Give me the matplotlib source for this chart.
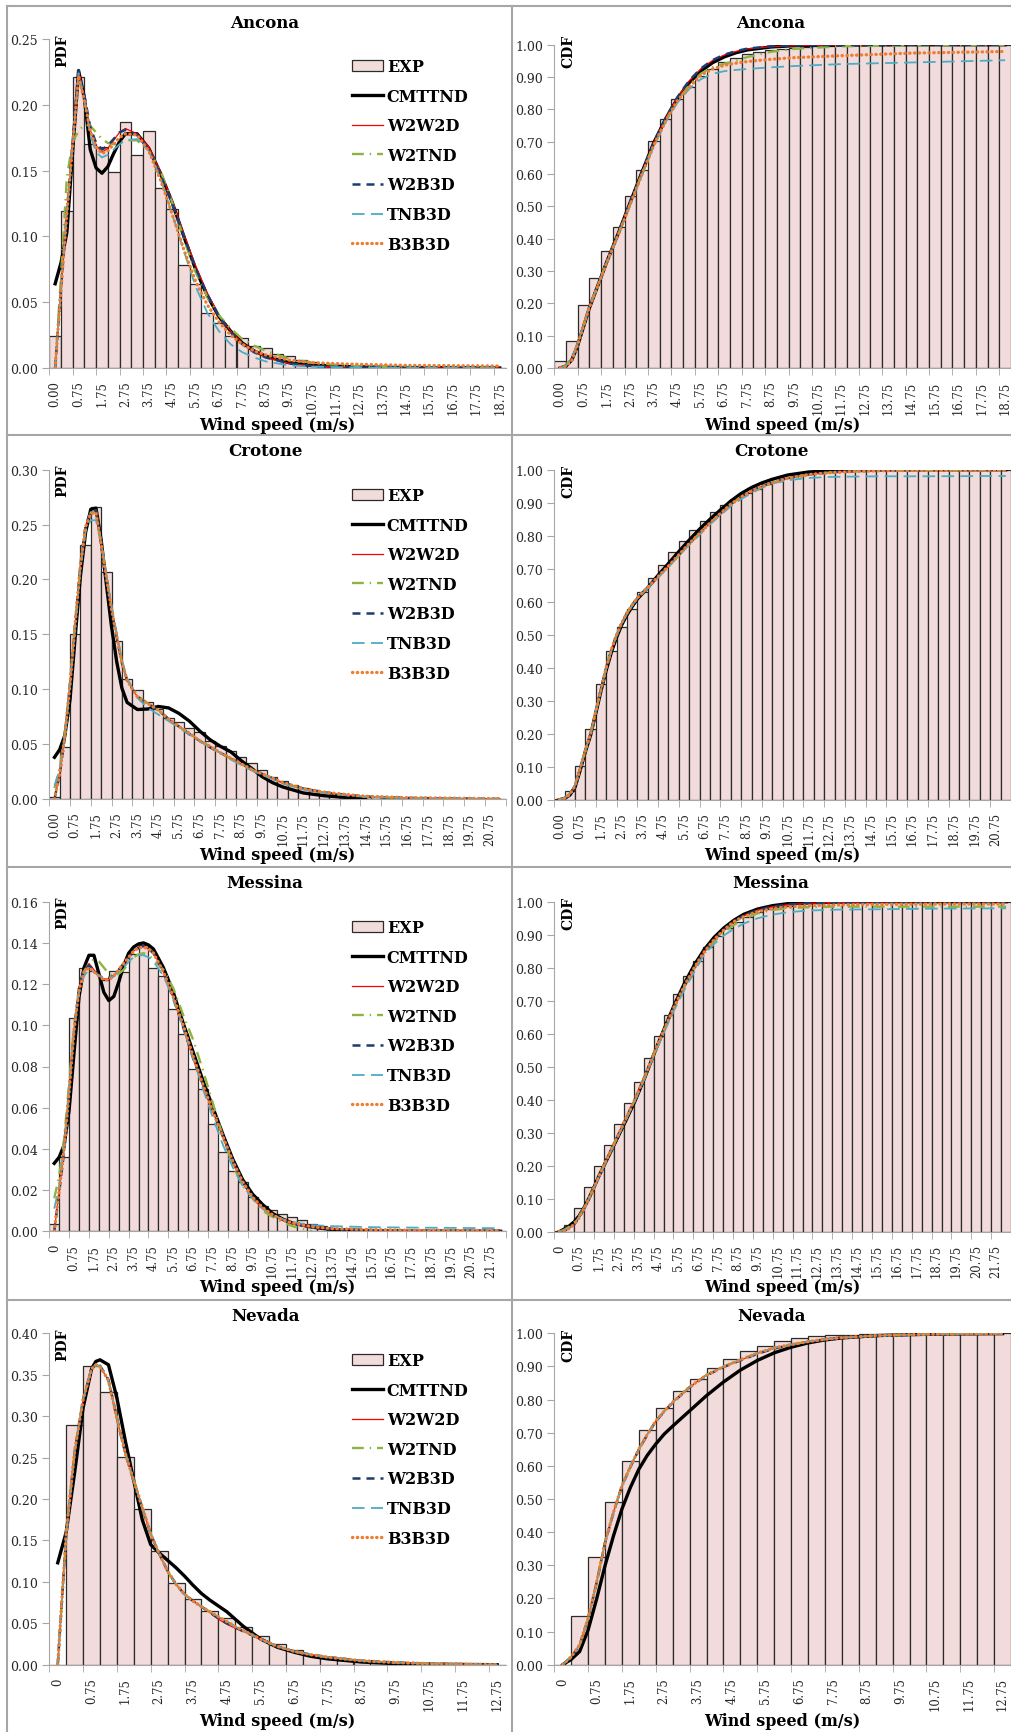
import numpy as np
import matplotlib.pyplot as plt
from matplotlib.lines import Line2D
from matplotlib.patches import Patch

plt.rcParams['font.family'] = 'DejaVu Serif'
nan = float('nan')

models = ["CMTTND", "W2W2D", "W2TND", "W2B3D", "TNB3D", "B3B3D"]
stations = ["Ancona", "Crotone", "Messina", "Nevada"]

# ---------------- Ancona ----------------
ancona_pdf_exp = [0.024, 0.119, 0.221, 0.170, 0.168, 0.149, 0.187, 0.162, 0.180, 0.137,
                  0.121, 0.078, 0.064, 0.042, 0.034, 0.024, 0.0225, 0.0165, 0.015, 0.0105,
                  0.0088, 0.006, 0.0043, 0.003, 0.0022, 0.0016, 0.0012, 0.0009, 0.0007, 0.0005,
                  0.0004, 0.0003, 0.0002, 0.0002, 0.0001, 0.0001, 0.0001, 0.0, 0.0]
ancona_cdf_exp = [0.023, 0.0845, 0.195, 0.278, 0.363, 0.437, 0.531, 0.612, 0.703, 0.770,
                  0.832, 0.870, 0.904, 0.925, 0.945, 0.960, 0.970, 0.978, 0.984, 0.988,
                  0.991, 0.994, 0.996, 0.997, 0.998, 0.998, 0.999, 0.999, 1.0, 1.0,
                  1.0, 1.0, 1.0, 1.0, 1.0, 1.0, 1.0, 1.0, 1.0]
# fitted curves, x in m/s
ancona_pdf_x = [0, 0.25, 0.5, 0.75, 1.0, 1.25, 1.5, 1.75, 2.0, 2.25, 2.5, 2.75, 3.0, 3.5, 4.0,
                4.5, 5.0, 5.5, 6.0, 6.5, 7.0, 7.5, 8.0, 8.5, 9.0, 10.0, 11.0, 12.5, 15.0, 19.0]
ancona_pdf_cmttnd = [0.064, 0.080, 0.103, 0.165, 0.226, 0.205, 0.166, 0.152, 0.148, 0.153, 0.163, 0.172, 0.178, 0.178, 0.167,
                     0.148, 0.126, 0.100, 0.075, 0.055, 0.039, 0.028, 0.019, 0.013, 0.009, 0.004, 0.002, 0.001, 0.0003, 0.0]
ancona_pdf_w2w2d = [0.0, 0.058, 0.118, 0.172, 0.226, 0.206, 0.181, 0.169, 0.164, 0.167, 0.173, 0.179, 0.182, 0.178, 0.168,
                    0.149, 0.127, 0.102, 0.078, 0.057, 0.040, 0.028, 0.019, 0.013, 0.008, 0.0035, 0.0015, 0.0005, 0.0001, 0.0]
ancona_pdf_w2tnd = [0.0, 0.070, 0.145, 0.172, 0.180, 0.185, 0.184, 0.179, 0.174, 0.171, 0.170, 0.171, 0.173, 0.173, 0.165,
                    0.150, 0.126, 0.098, 0.073, 0.054, 0.040, 0.030, 0.022, 0.017, 0.013, 0.007, 0.004, 0.0015, 0.0003, 0.0]
ancona_pdf_w2b3d = [0.0, 0.060, 0.118, 0.172, 0.226, 0.207, 0.183, 0.171, 0.166, 0.169, 0.174, 0.179, 0.181, 0.177, 0.166,
                    0.147, 0.125, 0.100, 0.076, 0.056, 0.039, 0.027, 0.018, 0.012, 0.008, 0.0035, 0.0015, 0.0005, 0.0001, 0.0]
ancona_pdf_tnb3d = [0.0, 0.062, 0.118, 0.170, 0.224, 0.203, 0.177, 0.164, 0.160, 0.162, 0.166, 0.170, 0.173, 0.174, 0.165,
                    0.144, 0.117, 0.089, 0.062, 0.042, 0.028, 0.018, 0.012, 0.008, 0.005, 0.002, 0.001, 0.0005, 0.0002, 0.0]
ancona_pdf_b3b3d = [0.0, 0.060, 0.118, 0.170, 0.222, 0.203, 0.180, 0.168, 0.163, 0.165, 0.170, 0.175, 0.178, 0.177, 0.165,
                    0.143, 0.117, 0.090, 0.066, 0.048, 0.035, 0.025, 0.018, 0.013, 0.010, 0.006, 0.004, 0.003, 0.002, 0.0015]
ancona_cdf_x = [0, 0.25, 0.5, 0.75, 1.0, 1.25, 1.5, 2.0, 2.5, 3.0, 3.5, 4.0, 4.5, 5.0, 5.5, 6.0, 6.5,
                7.0, 7.5, 8.0, 9.0, 10.0, 12.0, 15.0, 19.0]
ancona_cdf_cmttnd = [0, 0.006, 0.025, 0.070, 0.128, 0.186, 0.234, 0.330, 0.420, 0.514, 0.607, 0.697, 0.770, 0.832, 0.882,
                     0.918, 0.944, 0.962, 0.975, 0.984, 0.993, 0.997, 0.999, 1.0, 1.0]
ancona_cdf_w2w2d = [0, 0.007, 0.028, 0.075, 0.131, 0.190, 0.236, 0.330, 0.418, 0.512, 0.606, 0.697, 0.772, 0.836, 0.887,
                    0.925, 0.951, 0.968, 0.979, 0.987, 0.994, 0.997, 0.999, 1.0, 1.0]
ancona_cdf_w2tnd = [0, 0.009, 0.032, 0.078, 0.132, 0.190, 0.236, 0.330, 0.418, 0.510, 0.603, 0.692, 0.765, 0.826, 0.874,
                    0.910, 0.930, 0.941, 0.950, 0.962, 0.978, 0.987, 0.995, 0.998, 0.999]
ancona_cdf_w2b3d = [0, 0.007, 0.027, 0.074, 0.130, 0.189, 0.236, 0.331, 0.419, 0.513, 0.607, 0.698, 0.773, 0.837, 0.888,
                    0.926, 0.952, 0.969, 0.980, 0.988, 0.995, 0.998, 0.999, 1.0, 1.0]
ancona_cdf_tnb3d = [0, 0.008, 0.030, 0.077, 0.133, 0.190, 0.235, 0.328, 0.415, 0.507, 0.598, 0.686, 0.760, 0.820, 0.862,
                    0.893, 0.910, 0.918, 0.922, 0.925, 0.930, 0.934, 0.940, 0.945, 0.952]
ancona_cdf_b3b3d = [0, 0.005, 0.024, 0.072, 0.130, 0.188, 0.234, 0.328, 0.416, 0.508, 0.600, 0.689, 0.763, 0.826, 0.868,
                    0.905, 0.925, 0.936, 0.943, 0.948, 0.955, 0.960, 0.966, 0.974, 0.979]

# ---------------- Crotone ----------------
crotone_pdf_exp = [0.0015, 0.047, 0.150, 0.231, 0.266, 0.207, 0.144, 0.109, 0.0996, 0.088,
                   0.082, 0.074, 0.070, 0.065, 0.061, 0.053, 0.048, 0.044, 0.038, 0.033,
                   0.026, 0.020, 0.016, 0.013, 0.010, 0.008, 0.006, 0.0045, 0.0035, 0.0025,
                   0.002, 0.0015, 0.001, 0.0008, 0.0006, 0.0004, 0.0003, 0.0002, 0.0002, 0.0001,
                   0.0001, 0.0001, 0.0, 0.0]
crotone_cdf_exp = [0.001, 0.025, 0.101, 0.215, 0.350, 0.452, 0.524, 0.578, 0.628, 0.672,
                   0.712, 0.750, 0.785, 0.816, 0.845, 0.871, 0.894, 0.912, 0.929, 0.943,
                   0.957, 0.967, 0.975, 0.982, 0.987, 0.991, 0.994, 0.996, 0.997, 0.998,
                   0.999, 0.999, 0.9995, 1.0, 1.0, 1.0, 1.0, 1.0, 1.0, 1.0,
                   1.0, 1.0, 1.0, 1.0]
crotone_pdf_x = [0, 0.25, 0.5, 0.75, 1.0, 1.25, 1.5, 1.75, 2.0, 2.25, 2.5, 2.75, 3.0, 3.25, 3.5,
                 4.0, 4.5, 5.0, 5.5, 6.0, 6.5, 7.0, 7.5, 8.0, 8.5, 9.0, 9.5, 10.0, 10.5, 11.0,
                 12.0, 13.0, 14.0, 15.0, 17.0, 21.5]
crotone_pdf_cmttnd = [0.038, 0.045, 0.058, 0.091, 0.148, 0.203, 0.243, 0.264, 0.265, 0.236, 0.196, 0.157, 0.125, 0.101, 0.088,
                      0.0815, 0.082, 0.0843, 0.083, 0.078, 0.071, 0.062, 0.054, 0.048, 0.043, 0.035, 0.028, 0.0205, 0.015, 0.011,
                      0.0055, 0.003, 0.0015, 0.0005, nan, nan]
crotone_pdf_w2w2d = [0.0, 0.023, 0.057, 0.105, 0.160, 0.213, 0.248, 0.260, 0.263, 0.232, 0.202, 0.173, 0.148, 0.124, 0.108,
                     0.093, 0.087, 0.081, 0.073, 0.066, 0.060, 0.053, 0.048, 0.042, 0.037, 0.032, 0.027, 0.023, 0.019, 0.0145,
                     0.009, 0.0058, 0.0038, 0.002, 0.0009, 0.0]
crotone_pdf_w2tnd = [0.010, 0.028, 0.060, 0.106, 0.160, 0.212, 0.247, 0.261, 0.262, 0.233, 0.203, 0.174, 0.149, 0.125, 0.109,
                     0.094, 0.087, 0.081, 0.073, 0.066, 0.060, 0.053, 0.048, 0.042, 0.037, 0.032, 0.027, 0.023, 0.019, 0.0145,
                     0.009, 0.0058, 0.0038, 0.002, 0.0009, 0.0]
crotone_pdf_w2b3d = [0.0, 0.022, 0.056, 0.104, 0.160, 0.213, 0.249, 0.262, 0.263, 0.233, 0.202, 0.172, 0.147, 0.124, 0.108,
                     0.093, 0.087, 0.081, 0.073, 0.066, 0.059, 0.053, 0.047, 0.042, 0.037, 0.032, 0.027, 0.023, 0.019, 0.015,
                     0.0095, 0.006, 0.004, 0.0022, 0.001, 0.0]
crotone_pdf_tnb3d = [0.012, 0.027, 0.058, 0.106, 0.160, 0.211, 0.244, 0.254, 0.254, 0.234, 0.205, 0.176, 0.151, 0.127, 0.110,
                     0.092, 0.083, 0.077, 0.071, 0.065, 0.059, 0.053, 0.047, 0.042, 0.036, 0.031, 0.026, 0.022, 0.018, 0.014,
                     0.0085, 0.0055, 0.0035, 0.002, 0.0008, 0.0]
crotone_pdf_b3b3d = [0.0, 0.023, 0.057, 0.105, 0.160, 0.213, 0.248, 0.260, 0.261, 0.232, 0.202, 0.173, 0.148, 0.124, 0.108,
                     0.093, 0.087, 0.081, 0.073, 0.066, 0.060, 0.053, 0.048, 0.042, 0.037, 0.032, 0.027, 0.023, 0.019, 0.015,
                     0.0095, 0.0062, 0.0042, 0.0025, 0.0012, 0.0003]
crotone_cdf_x = [0, 0.25, 0.5, 0.75, 1.0, 1.25, 1.5, 1.75, 2.0, 2.25, 2.5, 2.75, 3.0, 3.25, 3.5, 3.75,
                 4.25, 4.75, 5.25, 5.75, 6.25, 6.75, 7.25, 7.75, 8.25, 8.75, 9.25, 9.75, 10.25,
                 11.0, 12.0, 13.0, 14.0, 15.5, 17.5, 21.5]
crotone_cdf_cmttnd = [0, 0.004, 0.014, 0.038, 0.090, 0.146, 0.196, 0.262, 0.330, 0.392, 0.447, 0.492, 0.530, 0.560, 0.585, 0.608,
                      0.642, 0.680, 0.716, 0.752, 0.787, 0.820, 0.850, 0.878, 0.905, 0.928, 0.946, 0.960, 0.971,
                      0.984, 0.993, 0.997, 0.999, 1.0, 1.0, 1.0]
crotone_cdf_w2w2d = [0, 0.004, 0.016, 0.042, 0.095, 0.150, 0.200, 0.268, 0.335, 0.400, 0.455, 0.500, 0.536, 0.566, 0.590, 0.612,
                     0.643, 0.676, 0.708, 0.742, 0.776, 0.807, 0.838, 0.867, 0.896, 0.918, 0.936, 0.950, 0.961,
                     0.975, 0.986, 0.992, 0.995, 0.998, 0.999, 1.0]
crotone_cdf_w2tnd = [0, 0.006, 0.018, 0.044, 0.096, 0.150, 0.200, 0.267, 0.334, 0.399, 0.454, 0.499, 0.535, 0.565, 0.589, 0.611,
                     0.642, 0.675, 0.707, 0.741, 0.775, 0.806, 0.837, 0.866, 0.895, 0.917, 0.935, 0.949, 0.960,
                     0.974, 0.985, 0.991, 0.994, 0.997, 0.998, 0.999]
crotone_cdf_w2b3d = [0, 0.004, 0.016, 0.042, 0.095, 0.150, 0.200, 0.268, 0.335, 0.400, 0.455, 0.500, 0.536, 0.566, 0.590, 0.612,
                     0.643, 0.676, 0.708, 0.742, 0.776, 0.807, 0.838, 0.867, 0.896, 0.918, 0.936, 0.950, 0.961,
                     0.975, 0.986, 0.992, 0.995, 0.998, 0.999, 1.0]
crotone_cdf_tnb3d = [0, 0.005, 0.018, 0.045, 0.097, 0.151, 0.200, 0.267, 0.333, 0.397, 0.452, 0.498, 0.534, 0.564, 0.588, 0.610,
                     0.640, 0.673, 0.705, 0.739, 0.772, 0.803, 0.834, 0.862, 0.889, 0.911, 0.929, 0.945, 0.958,
                     0.968, 0.975, 0.978, 0.979, 0.980, 0.980, 0.981]
crotone_cdf_b3b3d = [0, 0.004, 0.016, 0.042, 0.095, 0.150, 0.200, 0.268, 0.335, 0.400, 0.455, 0.500, 0.536, 0.566, 0.590, 0.612,
                     0.643, 0.676, 0.708, 0.742, 0.776, 0.807, 0.838, 0.867, 0.895, 0.917, 0.935, 0.949, 0.960,
                     0.974, 0.985, 0.991, 0.994, 0.997, 0.998, 0.999]

# ---------------- Messina ----------------
messina_pdf_exp = [0.0036, 0.036, 0.1035, 0.128, 0.1265, 0.122, 0.1265, 0.126, 0.1346, 0.139,
                   0.128, 0.1238, 0.108, 0.0958, 0.079, 0.069, 0.052, 0.0387, 0.0294, 0.0238,
                   0.0165, 0.0121, 0.0102, 0.0083, 0.0068, 0.0057, 0.0036, 0.0024, 0.0016, 0.0011,
                   0.0008, 0.0006, 0.0004, 0.0003, 0.0002, 0.0002, 0.0001, 0.0001, 0.0001, 0.0,
                   0.0, 0.0, 0.0, 0.0, 0.0, 0.0]
messina_cdf_exp = [0.002, 0.020, 0.072, 0.136, 0.199, 0.263, 0.326, 0.389, 0.4545, 0.526,
                   0.594, 0.658, 0.720, 0.774, 0.821, 0.862, 0.895, 0.920, 0.940, 0.955,
                   0.968, 0.977, 0.983, 0.988, 0.992, 0.995, 0.997, 0.998, 0.999, 0.999,
                   1.0, 1.0, 1.0, 1.0, 1.0, 1.0, 1.0, 1.0, 1.0, 1.0,
                   1.0, 1.0, 1.0, 1.0, 1.0, 1.0]
messina_pdf_x = [0, 0.25, 0.5, 0.75, 1.0, 1.25, 1.5, 1.75, 2.0, 2.25, 2.5, 2.75, 3.0, 3.25, 3.5, 3.75,
                 4.0, 4.25, 4.5, 4.75, 5.0, 5.5, 6.0, 6.5, 7.0, 7.5, 8.0, 8.5, 9.0, 9.5, 10.0,
                 10.5, 11.0, 11.5, 12.0, 13.0, 14.0, 16.0, 18.0, 22.5]
messina_pdf_cmttnd = [0.033, 0.036, 0.042, 0.059, 0.087, 0.114, 0.128, 0.134, 0.134, 0.125, 0.116, 0.112, 0.114, 0.121, 0.129,
                      0.135, 0.138, 0.1395, 0.140, 0.139, 0.137, 0.128, 0.116, 0.101, 0.087, 0.073, 0.060, 0.047, 0.035, 0.025,
                      0.018, 0.013, 0.0087, 0.006, 0.004, 0.002, 0.0009, 0.0002, 0.0, 0.0]
messina_pdf_w2w2d = [0.0, 0.020, 0.040, 0.068, 0.098, 0.118, 0.127, 0.130, 0.127, 0.124, 0.1225, 0.1225, 0.124, 0.127, 0.130,
                     0.133, 0.136, 0.138, 0.1387, 0.137, 0.1355, 0.126, 0.113, 0.099, 0.0836, 0.0705, 0.058, 0.046, 0.033, 0.0235,
                     0.016, 0.011, 0.0078, 0.0054, 0.0038, 0.002, 0.0011, 0.0006, 0.0004, 0.0003]
messina_pdf_w2tnd = [0.016, 0.027, 0.045, 0.072, 0.100, 0.118, 0.126, 0.130, 0.132, 0.131, 0.128, 0.125, 0.124, 0.125, 0.127,
                     0.130, 0.133, 0.1345, 0.135, 0.134, 0.132, 0.127, 0.118, 0.105, 0.093, 0.078, 0.062, 0.046, 0.032, 0.022,
                     0.016, 0.010, 0.007, 0.0045, 0.0025, 0.0, nan, nan, nan, nan]
messina_pdf_w2b3d = [0.0, 0.019, 0.039, 0.067, 0.097, 0.118, 0.127, 0.129, 0.127, 0.124, 0.123, 0.123, 0.124, 0.127, 0.130,
                     0.133, 0.136, 0.1375, 0.1385, 0.137, 0.135, 0.126, 0.113, 0.099, 0.084, 0.071, 0.058, 0.046, 0.034, 0.024,
                     0.0165, 0.0115, 0.008, 0.0055, 0.0038, 0.002, 0.0011, 0.0006, 0.0004, 0.0003]
messina_pdf_tnb3d = [0.011, 0.022, 0.042, 0.070, 0.098, 0.116, 0.124, 0.127, 0.126, 0.124, 0.123, 0.123, 0.124, 0.126, 0.128,
                     0.131, 0.133, 0.134, 0.134, 0.133, 0.131, 0.124, 0.113, 0.099, 0.084, 0.069, 0.055, 0.042, 0.031, 0.022,
                     0.016, 0.011, 0.008, 0.006, 0.0045, 0.003, 0.0025, 0.002, 0.0018, 0.0015]
messina_pdf_b3b3d = [0.0, 0.020, 0.040, 0.068, 0.098, 0.117, 0.126, 0.128, 0.126, 0.124, 0.122, 0.122, 0.124, 0.127, 0.130,
                     0.133, 0.136, 0.1375, 0.138, 0.137, 0.135, 0.126, 0.114, 0.100, 0.085, 0.071, 0.058, 0.046, 0.034, 0.024,
                     0.0165, 0.0115, 0.008, 0.0056, 0.004, 0.0022, 0.0013, 0.0008, 0.0005, 0.0004]
messina_cdf_x = [0, 0.25, 0.5, 0.75, 1.0, 1.25, 1.5, 1.75, 2.0, 2.3, 2.8, 3.3, 3.8, 4.3, 4.8, 5.3,
                 5.8, 6.3, 6.8, 7.3, 7.8, 8.3, 8.8, 9.3, 10.0, 10.75, 11.5, 12.5, 14.0, 16.0, 19.0, 22.5]
messina_cdf_cmttnd = [0, 0.008, 0.017, 0.030, 0.048, 0.073, 0.102, 0.135, 0.169, 0.206, 0.268, 0.330, 0.394, 0.466, 0.543, 0.617,
                      0.688, 0.752, 0.808, 0.855, 0.892, 0.921, 0.944, 0.962, 0.978, 0.988, 0.994, 0.997, 0.999, 1.0, 1.0, 1.0]
messina_cdf_w2w2d = [0, 0.003, 0.010, 0.022, 0.042, 0.070, 0.100, 0.133, 0.168, 0.208, 0.272, 0.336, 0.400, 0.470, 0.545, 0.615,
                     0.683, 0.745, 0.800, 0.848, 0.885, 0.915, 0.940, 0.958, 0.975, 0.985, 0.991, 0.995, 0.998, 0.999, 1.0, 1.0]
messina_cdf_w2tnd = [0, 0.006, 0.015, 0.028, 0.047, 0.073, 0.102, 0.134, 0.168, 0.207, 0.271, 0.335, 0.399, 0.468, 0.543, 0.613,
                     0.680, 0.742, 0.796, 0.843, 0.880, 0.908, 0.930, 0.948, 0.965, 0.975, 0.980, 0.983, 0.985, 0.985, 0.985, 0.985]
messina_cdf_w2b3d = [0, 0.003, 0.010, 0.022, 0.042, 0.070, 0.100, 0.133, 0.168, 0.208, 0.272, 0.336, 0.400, 0.470, 0.545, 0.615,
                     0.683, 0.745, 0.800, 0.848, 0.885, 0.915, 0.940, 0.958, 0.975, 0.985, 0.991, 0.995, 0.998, 0.999, 1.0, 1.0]
messina_cdf_tnb3d = [0, 0.005, 0.013, 0.026, 0.045, 0.072, 0.101, 0.133, 0.166, 0.205, 0.268, 0.331, 0.395, 0.464, 0.538, 0.607,
                     0.673, 0.733, 0.787, 0.840, 0.872, 0.898, 0.918, 0.934, 0.950, 0.961, 0.968, 0.973, 0.976, 0.977, 0.979, 0.980]
messina_cdf_b3b3d = [0, 0.003, 0.010, 0.022, 0.042, 0.070, 0.100, 0.133, 0.168, 0.208, 0.272, 0.336, 0.400, 0.470, 0.545, 0.615,
                     0.683, 0.745, 0.800, 0.848, 0.885, 0.915, 0.940, 0.955, 0.970, 0.979, 0.984, 0.988, 0.990, 0.992, 0.993, 0.993]

# ---------------- Nevada ----------------
nevada_pdf_exp = [0.0, 0.289, 0.360, 0.329, 0.251, 0.1875, 0.137, 0.0986, 0.079, 0.065,
                  0.056, 0.045, 0.035, 0.025, 0.018, 0.012, 0.009, 0.006, 0.004, 0.003,
                  0.002, 0.0015, 0.001, 0.0008, 0.0005, 0.0003, 0.0002]
nevada_cdf_exp = [0.0, 0.146, 0.326, 0.491, 0.615, 0.707, 0.776, 0.825, 0.863, 0.894,
                  0.9225, 0.946, 0.963, 0.976, 0.985, 0.991, 0.994, 0.996, 0.997, 0.998,
                  0.999, 0.999, 1.0, 1.0, 1.0, 1.0, 1.0]
nevada_pdf_x = [0, 0.25, 0.5, 0.75, 1.0, 1.125, 1.25, 1.5, 1.75, 2.0, 2.25, 2.5, 2.75, 3.0, 3.25, 3.5, 3.75,
                4.0, 4.25, 4.5, 4.75, 5.0, 5.25, 5.5, 6.0, 6.5, 7.0, 7.5, 8.0, 9.0, 10.0, 11.0, 13.0]
nevada_pdf_cmttnd = [0.123, 0.160, 0.232, 0.310, 0.357, 0.366, 0.368, 0.362, 0.322, 0.270, 0.222, 0.175, 0.145, 0.135, 0.126,
                     0.117, 0.107, 0.096, 0.086, 0.078, 0.071, 0.064, 0.055, 0.046, 0.031, 0.021, 0.015, 0.010, 0.007, 0.0032,
                     0.0013, 0.0005, 0.0]
nevada_pdf_w2w2d = [0.0, 0.158, 0.258, 0.320, 0.357, 0.362, 0.360, 0.343, 0.297, 0.255, 0.222, 0.190, 0.158, 0.134, 0.113,
                    0.097, 0.085, 0.077, 0.070, 0.063, 0.055, 0.049, 0.044, 0.040, 0.031, 0.022, 0.016, 0.012, 0.009, 0.0048,
                    0.0026, 0.0013, 0.0]
nevada_pdf_w2tnd = [0.0, 0.158, 0.258, 0.320, 0.357, 0.362, 0.360, 0.343, 0.297, 0.255, 0.222, 0.190, 0.158, 0.134, 0.113,
                    0.097, 0.085, 0.077, 0.070, 0.064, 0.058, 0.052, 0.046, 0.041, 0.031, 0.022, 0.016, 0.012, 0.009, 0.0048,
                    0.0026, 0.0013, 0.0]
nevada_pdf_w2b3d = [0.0, 0.156, 0.257, 0.320, 0.357, 0.362, 0.361, 0.344, 0.298, 0.255, 0.221, 0.189, 0.158, 0.134, 0.113,
                    0.097, 0.085, 0.077, 0.070, 0.063, 0.056, 0.050, 0.045, 0.040, 0.031, 0.022, 0.016, 0.012, 0.009, 0.0048,
                    0.0026, 0.0013, 0.0]
nevada_pdf_tnb3d = [0.0, 0.158, 0.258, 0.320, 0.357, 0.362, 0.360, 0.343, 0.297, 0.255, 0.222, 0.190, 0.158, 0.134, 0.113,
                    0.097, 0.085, 0.077, 0.070, 0.064, 0.058, 0.052, 0.046, 0.041, 0.031, 0.022, 0.016, 0.012, 0.009, 0.0048,
                    0.0026, 0.0013, 0.0]
nevada_pdf_b3b3d = [0.0, 0.158, 0.258, 0.320, 0.357, 0.362, 0.360, 0.343, 0.297, 0.255, 0.222, 0.190, 0.158, 0.134, 0.113,
                    0.097, 0.085, 0.077, 0.070, 0.064, 0.058, 0.052, 0.046, 0.041, 0.031, 0.022, 0.016, 0.012, 0.009, 0.0048,
                    0.0026, 0.0013, 0.0]
nevada_cdf_x = [0, 0.25, 0.5, 0.75, 1.0, 1.25, 1.5, 1.75, 2.0, 2.25, 2.5, 2.75, 3.0, 3.25, 3.75, 4.25, 4.75,
                5.25, 5.75, 6.25, 6.75, 7.25, 7.75, 8.25, 9.25, 10.25, 11.25, 13.0]
nevada_cdf_cmttnd = [0, 0.016, 0.040, 0.105, 0.198, 0.299, 0.389, 0.470, 0.535, 0.590, 0.632, 0.666, 0.696, 0.720, 0.766,
                     0.812, 0.853, 0.889, 0.918, 0.941, 0.958, 0.971, 0.980, 0.986, 0.993, 0.996, 0.998, 0.999]
nevada_cdf_w2w2d = [0, 0.024, 0.060, 0.140, 0.248, 0.369, 0.460, 0.540, 0.598, 0.650, 0.695, 0.735, 0.765, 0.792, 0.838,
                    0.874, 0.899, 0.919, 0.939, 0.955, 0.965, 0.974, 0.981, 0.986, 0.992, 0.995, 0.997, 0.999]
nevada_cdf_w2tnd = [0, 0.024, 0.060, 0.140, 0.248, 0.369, 0.460, 0.540, 0.598, 0.650, 0.695, 0.735, 0.765, 0.792, 0.838,
                    0.874, 0.899, 0.920, 0.940, 0.956, 0.966, 0.975, 0.982, 0.987, 0.993, 0.996, 0.998, 0.999]
nevada_cdf_w2b3d = [0, 0.023, 0.059, 0.139, 0.247, 0.368, 0.459, 0.539, 0.597, 0.649, 0.694, 0.734, 0.764, 0.791, 0.837,
                    0.873, 0.898, 0.918, 0.938, 0.954, 0.965, 0.974, 0.981, 0.986, 0.992, 0.995, 0.997, 0.999]
nevada_cdf_tnb3d = [0, 0.024, 0.060, 0.140, 0.248, 0.369, 0.460, 0.540, 0.598, 0.650, 0.695, 0.735, 0.765, 0.792, 0.838,
                    0.874, 0.899, 0.920, 0.940, 0.956, 0.966, 0.975, 0.982, 0.987, 0.993, 0.996, 0.998, 0.999]
nevada_cdf_b3b3d = [0, 0.024, 0.060, 0.140, 0.248, 0.369, 0.460, 0.540, 0.598, 0.650, 0.695, 0.735, 0.765, 0.792, 0.838,
                    0.874, 0.899, 0.920, 0.940, 0.956, 0.966, 0.975, 0.982, 0.987, 0.993, 0.996, 0.998, 0.999]

first_label = ["0.00", "0.00", "0", "0"]
pdf_ymax = [0.25, 0.30, 0.16, 0.40]
pdf_ystep = [0.05, 0.05, 0.02, 0.05]

pdf_exp = [ancona_pdf_exp, crotone_pdf_exp, messina_pdf_exp, nevada_pdf_exp]
cdf_exp = [ancona_cdf_exp, crotone_cdf_exp, messina_cdf_exp, nevada_cdf_exp]
pdf_x = [ancona_pdf_x, crotone_pdf_x, messina_pdf_x, nevada_pdf_x]
cdf_x = [ancona_cdf_x, crotone_cdf_x, messina_cdf_x, nevada_cdf_x]
pdf_fits = [
    [ancona_pdf_cmttnd, ancona_pdf_w2w2d, ancona_pdf_w2tnd, ancona_pdf_w2b3d, ancona_pdf_tnb3d, ancona_pdf_b3b3d],
    [crotone_pdf_cmttnd, crotone_pdf_w2w2d, crotone_pdf_w2tnd, crotone_pdf_w2b3d, crotone_pdf_tnb3d, crotone_pdf_b3b3d],
    [messina_pdf_cmttnd, messina_pdf_w2w2d, messina_pdf_w2tnd, messina_pdf_w2b3d, messina_pdf_tnb3d, messina_pdf_b3b3d],
    [nevada_pdf_cmttnd, nevada_pdf_w2w2d, nevada_pdf_w2tnd, nevada_pdf_w2b3d, nevada_pdf_tnb3d, nevada_pdf_b3b3d],
]
cdf_fits = [
    [ancona_cdf_cmttnd, ancona_cdf_w2w2d, ancona_cdf_w2tnd, ancona_cdf_w2b3d, ancona_cdf_tnb3d, ancona_cdf_b3b3d],
    [crotone_cdf_cmttnd, crotone_cdf_w2w2d, crotone_cdf_w2tnd, crotone_cdf_w2b3d, crotone_cdf_tnb3d, crotone_cdf_b3b3d],
    [messina_cdf_cmttnd, messina_cdf_w2w2d, messina_cdf_w2tnd, messina_cdf_w2b3d, messina_cdf_tnb3d, messina_cdf_b3b3d],
    [nevada_cdf_cmttnd, nevada_cdf_w2w2d, nevada_cdf_w2tnd, nevada_cdf_w2b3d, nevada_cdf_tnb3d, nevada_cdf_b3b3d],
]

# styles
BAR = '#F2DCDB'
EDGE = '#2B2B2B'
AXIS = '#A6A6A6'
TXT = '#262626'
styles = {
    "CMTTND": dict(color='black', lw=2.4, ls='-'),
    "W2W2D": dict(color='#FF0000', lw=0.9, ls='-'),
    "W2TND": dict(color='#8DB441', lw=1.7, ls=(0, (5, 2.5, 0.6, 2.5))),
    "W2B3D": dict(color='#1F3B70', lw=1.8, ls=(0, (3.2, 2.4))),
    "TNB3D": dict(color='#4BACC6', lw=1.3, ls=(0, (7, 3.5))),
    "B3B3D": dict(color='#ED7D31', lw=2.4, ls=(0, (0.1, 1.35)), dash_capstyle='round'),
}

# ---------------- layout (pixels) ----------------
W, H = 1011, 1733
fig = plt.figure(figsize=(W / 100, H / 100), dpi=100)


def fx(x):
    return x / W


def fy(y):
    return 1 - y / H


row_top = [7, 436, 868, 1301]
pdf_box = [(40, 369), (470.7, 800), (902.7, 1232.3), (1334.3, 1665.7)]
cdf_box = [(45.7, 369), (470.7, 800.7), (902.7, 1232.7), (1334.3, 1665.7)]
col_x = [(49.3, 505.6), (554.3, 1011)]
xlab_y = [426, 856, 1288, 1722]
ylab_y = [51, 481, 913, 1345]
title_x = [265, 771]
ylab_x = [62, 568]


def cat_labels(n, zero):
    return [zero] + ['%.2f' % (0.25 + 0.5 * k) for k in range(n - 1)]


def draw(col, r, exp, xs, fits, ymax, ystep, name, ylab):
    x0, x1 = col_x[col]
    y0, y1 = (pdf_box if col == 0 else cdf_box)[r]
    ax = fig.add_axes([fx(x0), fy(y1), (x1 - x0) / W, (y1 - y0) / H])
    n = len(exp)
    pos = np.arange(n)
    ax.bar(pos, exp, width=1.0, color=BAR, edgecolor=EDGE, linewidth=0.9, zorder=2)
    ax.set_xlim(-0.5, n - 0.5)
    ax.set_ylim(0, ymax)
    yt = np.arange(0, ymax + ystep / 2, ystep)
    ax.set_yticks(yt)
    ax.set_yticklabels(['%.2f' % t for t in yt])
    labs = cat_labels(n, first_label[r])
    ax.set_xticks(pos[::2])
    ax.set_xticklabels(labs[::2], rotation=90)
    ax.set_xticks(np.arange(-0.5, n, 2), minor=True)
    ax.tick_params(axis='x', which='major', length=0, pad=9, labelsize=8.4, labelcolor=TXT)
    ax.tick_params(axis='x', which='minor', length=5, color=AXIS)
    ax.tick_params(axis='y', length=5, color=AXIS, labelsize=9, pad=3, labelcolor=TXT)
    for s in ['top', 'right']:
        ax.spines[s].set_visible(False)
    for s in ['left', 'bottom']:
        ax.spines[s].set_color(AXIS)
        ax.spines[s].set_zorder(3)

    axc = ax.twiny()
    axc.set_xlim(-0.25, (n - 0.5) / 2)
    axc.set_ylim(0, ymax)
    axc.set_axis_off()
    for m, yv in zip(models, fits):
        axc.plot(xs, yv, **styles[m])

    if col == 0:
        handles = [Patch(facecolor=BAR, edgecolor=EDGE, linewidth=0.9)]
        handles += [Line2D([], [], **styles[m]) for m in models]
        axc.legend(handles, ['EXP'] + models, loc='upper left',
                   bbox_to_anchor=(fx(351.7), fy(row_top[r] + 52)),
                   bbox_transform=fig.transFigure, frameon=False,
                   prop=dict(weight='bold', size=11.5), handlelength=1.95,
                   handletextpad=0.25, labelspacing=0.79, borderpad=0,
                   borderaxespad=0)

    fig.text(fx(title_x[col]), fy(row_top[r] + 16), name, ha='center', va='center',
             weight='bold', size=12, color='black')
    fig.text(fx((x0 + x1) / 2), fy(xlab_y[r]), 'Wind speed (m/s)', ha='center',
             va='center', weight='bold', size=11.5, color='black')
    fig.text(fx(ylab_x[col]), fy(ylab_y[r]), ylab, rotation=90, ha='center',
             va='center', weight='bold', size=10, color='black')


for r in range(4):
    draw(0, r, pdf_exp[r], pdf_x[r], pdf_fits[r], pdf_ymax[r], pdf_ystep[r], stations[r], 'PDF')
    draw(1, r, cdf_exp[r], cdf_x[r], cdf_fits[r], 1.0, 0.1, stations[r], 'CDF')

# panel borders
for y in row_top:
    fig.add_artist(Line2D([fx(7), 1], [fy(y), fy(y)], color='#A6A6A6', lw=1.5))
for x in [7, 512]:
    fig.add_artist(Line2D([fx(x), fx(x)], [fy(7), 0], color='#A6A6A6', lw=1.5))

fig.savefig('out.png', dpi=100)
